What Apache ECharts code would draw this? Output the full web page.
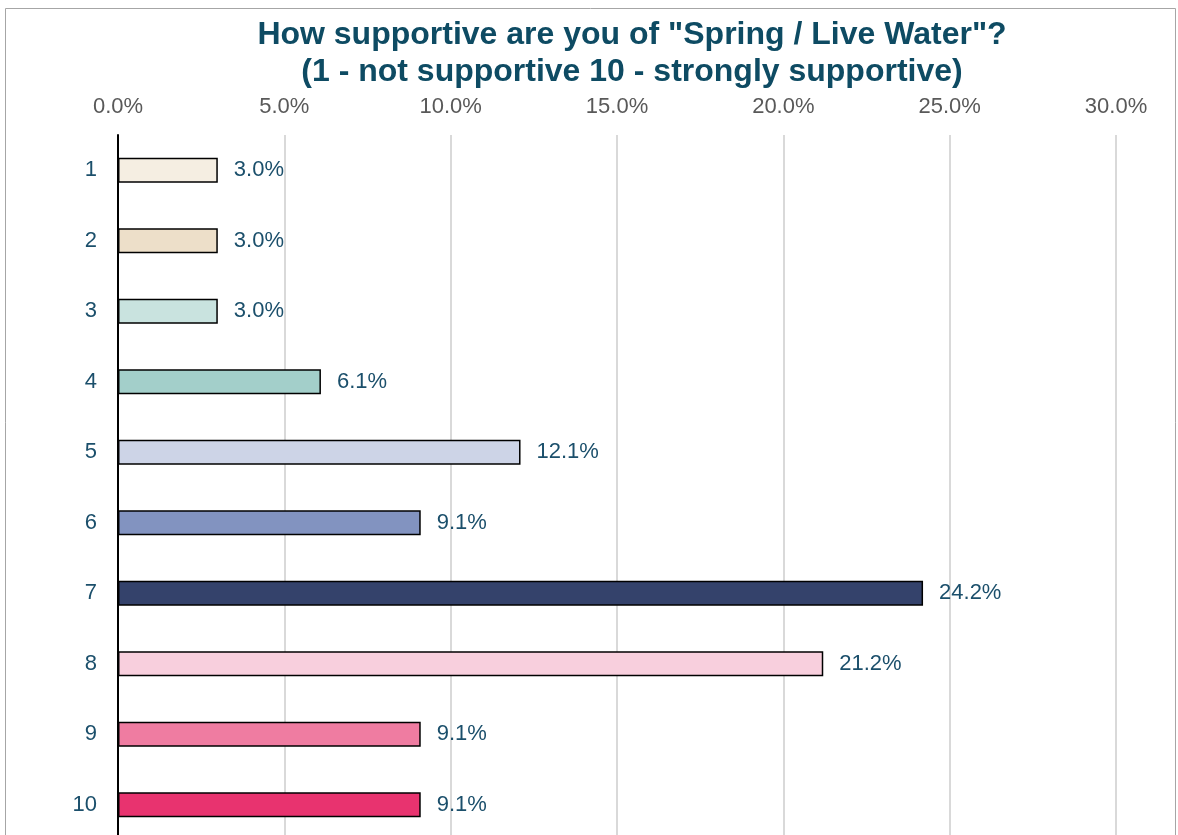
<!DOCTYPE html>
<html>
<head>
<meta charset="utf-8">
<script src="https://cdn.jsdelivr.net/npm/echarts@6/dist/echarts.min.js"></script>
<style>
  html, body { margin: 0; padding: 0; background: #fff; }
  #chart { width: 1178px; height: 835px; }
</style>
</head>
<body>
<div id="chart"></div>
<script>
// survey answers, 1 = not supportive ... 10 = strongly supportive
const categories = ['1', '2', '3', '4', '5', '6', '7', '8', '9', '10'];
const shares = [3.0, 3.0, 3.0, 6.1, 12.1, 9.1, 24.2, 21.2, 9.1, 9.1];
const barColors = ['#F5EEE2', '#EDDFC9', '#C9E3DF', '#A3CFCA', '#CDD4E7', '#8293C0', '#34426B', '#F8CFDD', '#EF7CA1', '#E8336F'];
const titleText = 'How supportive are you of "Spring / Live Water"?\n(1 - not supportive 10 - strongly supportive)';

const font = 'Liberation Sans, Arial, sans-serif';
const chart = echarts.init(document.getElementById('chart'));

chart.setOption({
    animation: false,
    backgroundColor: '#fff',
    title: {
        text: titleText, left: 627, top: 12, textAlign: 'center',
        textStyle: { fontFamily: font, fontSize: 32, fontWeight: 'bold', color: '#0E4B63', lineHeight: 37 }
    },
    graphic: [{
        type: 'rect', z: -1, silent: true,
        shape: { x: 5.5, y: 8.5, width: 1170, height: 840 },
        style: { fill: 'none', stroke: '#A6A6A6', lineWidth: 1 }
    }],
    // plot runs past the bottom edge, like the cropped original
    grid: { left: 118, right: 62, top: 135, height: 705, containLabel: false, outerBoundsMode: 'none' },
    xAxis: {
        type: 'value', position: 'top', min: 0, max: 30, interval: 5,
        axisLine: { show: false }, axisTick: { show: false },
        axisLabel: { margin: 17, fontFamily: font, fontSize: 22, color: '#595959', formatter: v => v.toFixed(1) + '%' },
        splitLine: { lineStyle: { color: '#D9D9D9', width: 2 } }
    },
    yAxis: {
        type: 'category', data: categories, inverse: true,
        axisLine: { lineStyle: { color: '#000', width: 2 } }, axisTick: { show: false },
        axisLabel: { margin: 21, fontFamily: font, fontSize: 22, color: '#1B4F6B' }
    },
    series: [{
        type: 'bar', barWidth: 25,
        data: shares.map((v, i) => ({ value: v, itemStyle: { color: barColors[i] } })),
        itemStyle: { borderColor: '#000', borderWidth: 1.5 },
        label: {
            show: true, position: 'right', distance: 16,
            fontFamily: font, fontSize: 22, color: '#1B4F6B',
            formatter: p => p.value.toFixed(1) + '%'
        }
    }]
});
</script>
</body>
</html>
